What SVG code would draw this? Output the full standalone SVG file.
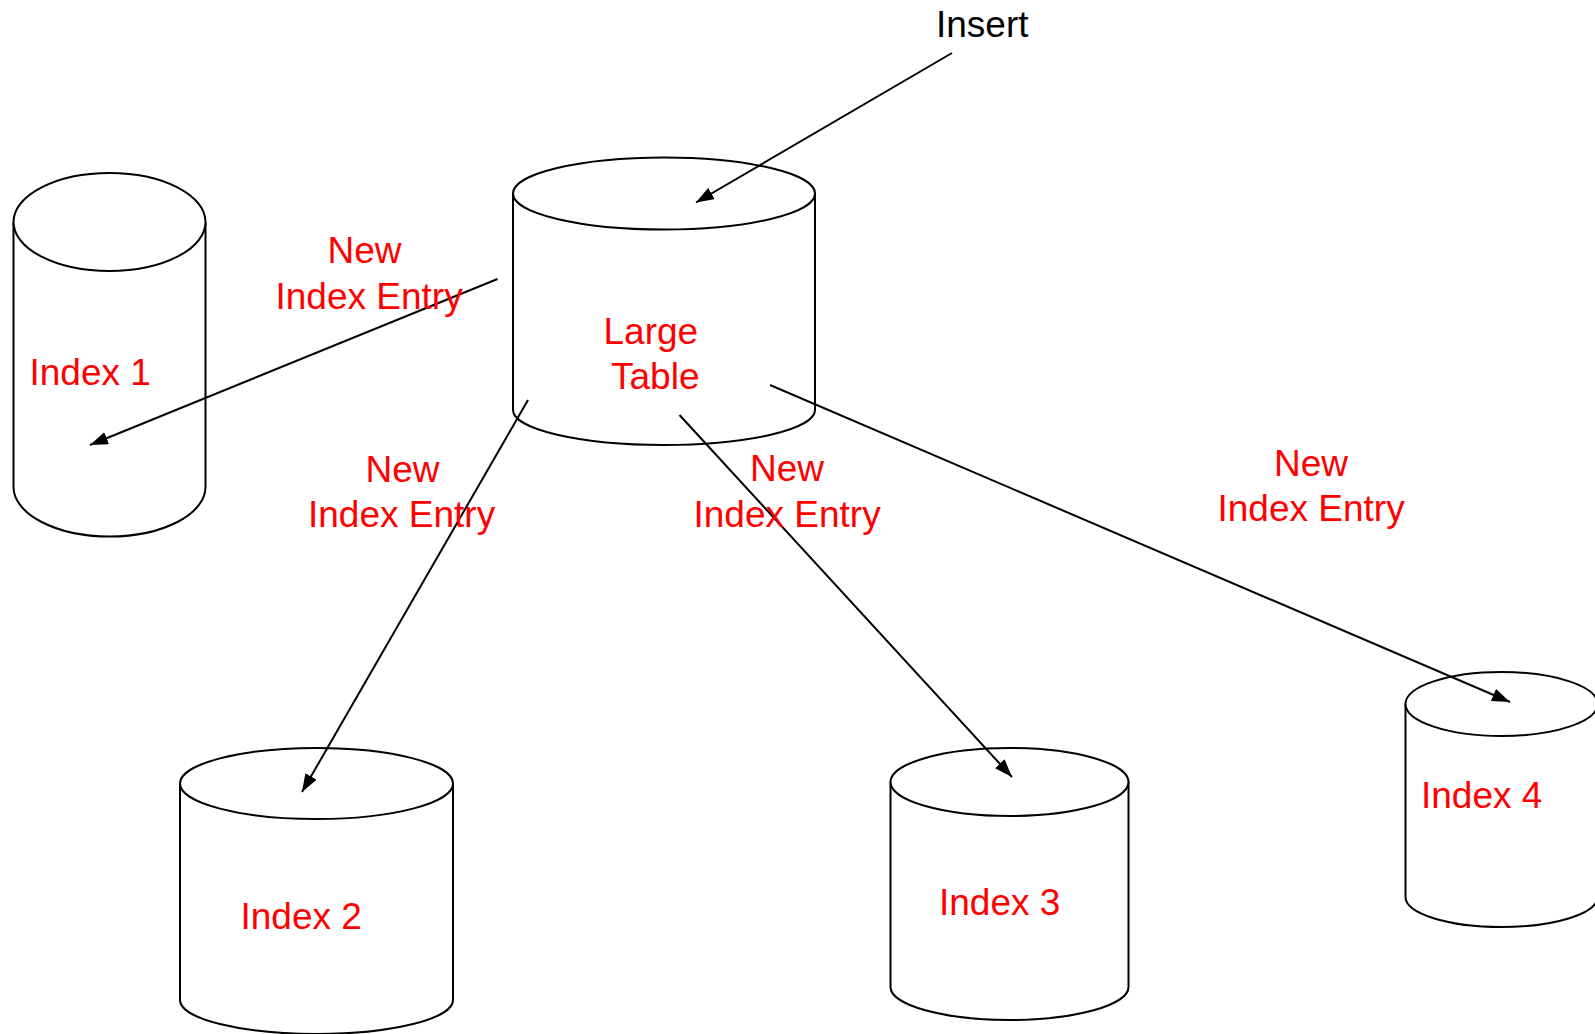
<svg xmlns="http://www.w3.org/2000/svg" width="1595" height="1034" viewBox="0 0 1595 1034">
<style>
.cyl{fill:#fff;stroke:#000;stroke-width:2}
.lbl{font-family:"Liberation Sans",Arial,sans-serif;font-size:37px;fill:#ff0000}
.blk{font-family:"Liberation Sans",Arial,sans-serif;font-size:37px;fill:#000}
.con{stroke:#000;stroke-width:2;fill:none;marker-end:url(#ah)}
</style>
<defs>
<marker id="ah" markerUnits="userSpaceOnUse" markerWidth="18" markerHeight="13" refX="18" refY="6.5" orient="auto">
<path d="M0,0 L18,6.5 L0,13 z" fill="#000"/>
</marker>
</defs>
<rect width="1595" height="1034" fill="#fff"/>
<g id="index1">
<path class="cyl" d="M13.5,222 L13.5,487 A96,49.5 0 0 0 205.5,487 L205.5,222"/>
<ellipse class="cyl" cx="109.5" cy="222" rx="96" ry="49"/>
<text class="lbl" x="29.5" y="385">Index 1</text>
</g>
<g id="largetable">
<path class="cyl" d="M513,193.5 L513,410 A151,35 0 0 0 815,410 L815,193.5"/>
<ellipse class="cyl" cx="664" cy="193.5" rx="151" ry="36"/>
<text class="lbl" x="603.5" y="343.5">Large</text>
<text class="lbl" x="611" y="388.5">Table</text>
</g>
<g id="index2">
<path class="cyl" d="M180,783.5 L180,1000 A136.5,34 0 0 0 453,1000 L453,783.5"/>
<ellipse class="cyl" cx="316.5" cy="783.5" rx="136.5" ry="35.5"/>
<text class="lbl" x="240.5" y="929">Index 2</text>
</g>
<g id="index3">
<path class="cyl" d="M890.5,782 L890.5,987 A119,33 0 0 0 1128.5,987 L1128.5,782"/>
<ellipse class="cyl" cx="1009.5" cy="782" rx="119" ry="34"/>
<text class="lbl" x="939" y="915">Index 3</text>
</g>
<g id="index4">
<path class="cyl" d="M1405.5,704 L1405.5,897 A96,30 0 0 0 1597.5,897 L1597.5,704"/>
<ellipse class="cyl" cx="1501.5" cy="704" rx="96" ry="32"/>
<text class="lbl" x="1421" y="807.5">Index 4</text>
</g>
<g id="connectors">
<line class="con" x1="952" y1="53" x2="696" y2="202.5"/>
<line class="con" x1="497.5" y1="279" x2="90" y2="445"/>
<line class="con" x1="528" y1="400" x2="302" y2="792"/>
<line class="con" x1="679.5" y1="415" x2="1012" y2="777"/>
<line class="con" x1="770" y1="385" x2="1510" y2="702"/>
</g>
<g id="labels">
<text class="blk" x="936" y="37">Insert</text>
<text class="lbl" x="327.5" y="263">New</text>
<text class="lbl" x="275.5" y="308.5">Index Entry</text>
<text class="lbl" x="365.5" y="482">New</text>
<text class="lbl" x="308" y="527">Index Entry</text>
<text class="lbl" x="750" y="481">New</text>
<text class="lbl" x="693.5" y="527">Index Entry</text>
<text class="lbl" x="1274" y="476">New</text>
<text class="lbl" x="1217.5" y="521">Index Entry</text>
</g>
</svg>
